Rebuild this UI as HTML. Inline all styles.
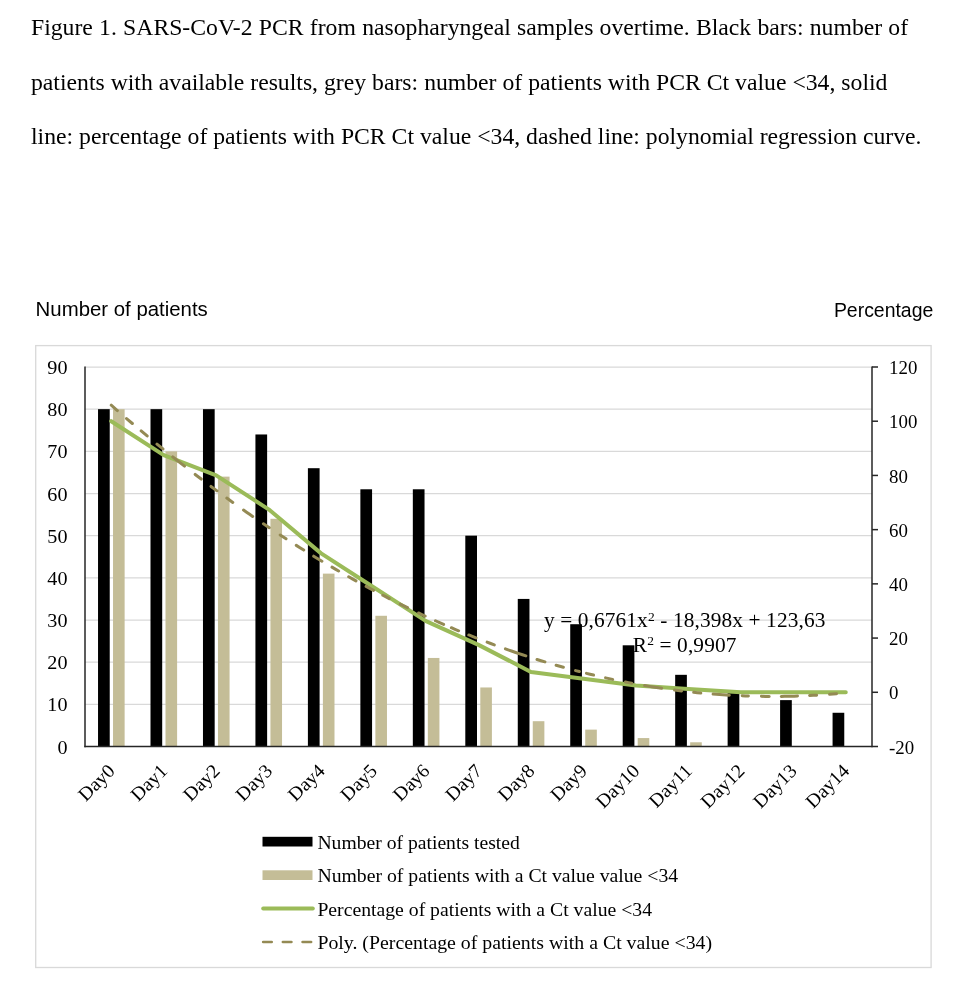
<!DOCTYPE html>
<html lang="en"><head><meta charset="utf-8"><title>Figure 1</title>
<style>
html,body{margin:0;padding:0;background:#fff;}
body{width:962px;height:992px;position:relative;overflow:hidden;}
.cap{position:absolute;left:31px;top:0;margin:0;font-family:"Liberation Serif",serif;font-size:23.7px;line-height:54.9px;color:#000;white-space:nowrap;}
.cap span{display:block;position:absolute;left:0;height:54.9px;}
</style></head><body>
<p class="cap"><span id="l1" style="top:0px;word-spacing:0.33px">Figure 1. SARS-CoV-2 PCR from nasopharyngeal samples overtime. Black bars: number of</span>
<span id="l2" style="top:54.7px;word-spacing:0.07px">patients with available results, grey bars: number of patients with PCR Ct value &lt;34, solid</span>
<span id="l3" style="top:108.55px;word-spacing:0.02px">line: percentage of patients with PCR Ct value &lt;34, dashed line: polynomial regression curve.</span></p>
<svg width="962" height="992" viewBox="0 0 962 992" style="position:absolute;left:0;top:0">
<rect x="35.7" y="345.6" width="895.4" height="621.9" fill="#fff" stroke="#d9d9d9" stroke-width="1.33"/>
<line x1="85.0" x2="872.0" y1="704.33" y2="704.33" stroke="#d9d9d9" stroke-width="1.25"/>
<line x1="85.0" x2="872.0" y1="662.17" y2="662.17" stroke="#d9d9d9" stroke-width="1.25"/>
<line x1="85.0" x2="872.0" y1="620.00" y2="620.00" stroke="#d9d9d9" stroke-width="1.25"/>
<line x1="85.0" x2="872.0" y1="577.83" y2="577.83" stroke="#d9d9d9" stroke-width="1.25"/>
<line x1="85.0" x2="872.0" y1="535.67" y2="535.67" stroke="#d9d9d9" stroke-width="1.25"/>
<line x1="85.0" x2="872.0" y1="493.50" y2="493.50" stroke="#d9d9d9" stroke-width="1.25"/>
<line x1="85.0" x2="872.0" y1="451.33" y2="451.33" stroke="#d9d9d9" stroke-width="1.25"/>
<line x1="85.0" x2="872.0" y1="409.17" y2="409.17" stroke="#d9d9d9" stroke-width="1.25"/>
<line x1="85.0" x2="872.0" y1="367.00" y2="367.00" stroke="#d9d9d9" stroke-width="1.25"/>
<rect x="98.03" y="409.17" width="11.7" height="337.33" fill="#000"/>
<rect x="113.03" y="409.17" width="11.6" height="337.33" fill="#c4bd97"/>
<rect x="150.50" y="409.17" width="11.7" height="337.33" fill="#000"/>
<rect x="165.50" y="451.33" width="11.6" height="295.17" fill="#c4bd97"/>
<rect x="202.97" y="409.17" width="11.7" height="337.33" fill="#000"/>
<rect x="217.97" y="476.63" width="11.6" height="269.87" fill="#c4bd97"/>
<rect x="255.43" y="434.47" width="11.7" height="312.03" fill="#000"/>
<rect x="270.43" y="518.80" width="11.6" height="227.70" fill="#c4bd97"/>
<rect x="307.90" y="468.20" width="11.7" height="278.30" fill="#000"/>
<rect x="322.90" y="573.62" width="11.6" height="172.88" fill="#c4bd97"/>
<rect x="360.37" y="489.28" width="11.7" height="257.22" fill="#000"/>
<rect x="375.37" y="615.78" width="11.6" height="130.72" fill="#c4bd97"/>
<rect x="412.83" y="489.28" width="11.7" height="257.22" fill="#000"/>
<rect x="427.83" y="657.95" width="11.6" height="88.55" fill="#c4bd97"/>
<rect x="465.30" y="535.67" width="11.7" height="210.83" fill="#000"/>
<rect x="480.30" y="687.47" width="11.6" height="59.03" fill="#c4bd97"/>
<rect x="517.77" y="598.92" width="11.7" height="147.58" fill="#000"/>
<rect x="532.77" y="721.20" width="11.6" height="25.30" fill="#c4bd97"/>
<rect x="570.23" y="624.22" width="11.7" height="122.28" fill="#000"/>
<rect x="585.23" y="729.63" width="11.6" height="16.87" fill="#c4bd97"/>
<rect x="622.70" y="645.30" width="11.7" height="101.20" fill="#000"/>
<rect x="637.70" y="738.07" width="11.6" height="8.43" fill="#c4bd97"/>
<rect x="675.17" y="674.82" width="11.7" height="71.68" fill="#000"/>
<rect x="690.17" y="742.28" width="11.6" height="4.22" fill="#c4bd97"/>
<rect x="727.63" y="691.68" width="11.7" height="54.82" fill="#000"/>
<rect x="780.10" y="700.12" width="11.7" height="46.38" fill="#000"/>
<rect x="832.57" y="712.77" width="11.7" height="33.73" fill="#000"/>
<line x1="85.0" x2="85.0" y1="366.5" y2="747.2" stroke="#262626" stroke-width="1.5"/>
<line x1="872.0" x2="872.0" y1="366.5" y2="747.2" stroke="#262626" stroke-width="1.5"/>
<line x1="84.35" x2="878.0" y1="746.5" y2="746.5" stroke="#262626" stroke-width="1.5"/>
<line x1="872.0" x2="878.0" y1="692.29" y2="692.29" stroke="#262626" stroke-width="1.5"/>
<line x1="872.0" x2="878.0" y1="638.07" y2="638.07" stroke="#262626" stroke-width="1.5"/>
<line x1="872.0" x2="878.0" y1="583.86" y2="583.86" stroke="#262626" stroke-width="1.5"/>
<line x1="872.0" x2="878.0" y1="529.64" y2="529.64" stroke="#262626" stroke-width="1.5"/>
<line x1="872.0" x2="878.0" y1="475.43" y2="475.43" stroke="#262626" stroke-width="1.5"/>
<line x1="872.0" x2="878.0" y1="421.21" y2="421.21" stroke="#262626" stroke-width="1.5"/>
<line x1="872.0" x2="878.0" y1="367.00" y2="367.00" stroke="#262626" stroke-width="1.5"/>
<path d="M111.23,421.21 L163.70,455.10 L216.17,475.43 L268.63,509.31 L321.10,553.36 L373.57,587.25 L426.03,621.13 L478.50,644.85 L530.97,671.96 L583.43,678.73 L635.90,685.51 L688.37,688.90 L740.83,692.29 L793.30,692.29 L845.77,692.29" fill="none" stroke="#9bbb59" stroke-width="4" stroke-linecap="round" stroke-linejoin="round"/>
<path d="M111.23,405.20 L114.30,407.89 L117.37,410.58 M126.54,418.52 L132.36,423.51 M141.15,430.95 L147.15,435.97 M156.96,444.08 L162.93,448.95 M172.77,456.87 L176.69,459.99 L180.60,463.09 L184.52,466.16 M195.19,474.44 L198.20,476.75 L201.21,479.05 M211.00,486.44 L216.99,490.89 M226.81,498.09 L232.78,502.41 M243.53,510.05 L246.57,512.19 L249.62,514.32 L252.67,516.44 M263.44,523.82 L269.25,527.74 M280.15,534.97 L286.04,538.80 M296.27,545.36 L300.00,547.72 L303.73,550.05 M313.68,556.20 L317.80,558.71 L321.91,561.19 M331.99,567.17 L335.30,569.10 L338.60,571.02 M348.71,576.79 L352.35,578.84 L355.99,580.87 M366.12,586.42 L369.80,588.40 L373.47,590.36 M382.83,595.28 L386.05,596.94 L389.26,598.59 M400.24,604.11 L403.90,605.92 L407.55,607.70 M418.56,612.97 L421.85,614.52 L425.14,616.05 M435.47,620.75 L439.55,622.57 L443.63,624.37 M451.38,627.73 L455.00,629.27 L458.62,630.79 M468.79,634.97 L472.40,636.43 L476.00,637.86 M487.10,642.16 L490.70,643.52 L494.29,644.86 M505.41,648.90 L508.82,650.10 L512.23,651.29 L515.64,652.47 L519.05,653.63 L522.46,654.77 L525.87,655.90 M537.03,659.48 L541.00,660.72 L544.96,661.93 M556.14,665.23 L559.75,666.27 L563.35,667.28 M575.55,670.58 L579.35,671.57 M586.46,673.36 L590.00,674.23 L593.54,675.08 M605.56,677.85 L609.10,678.63 L612.63,679.39 M625.47,682.02 L628.60,682.63 L631.73,683.22 M644.68,685.54 L648.07,686.11 L651.45,686.66 L654.84,687.20 L658.23,687.72 L661.62,688.23 M674.59,690.04 L678.10,690.49 L681.61,690.92 M693.69,692.29 L697.25,692.65 L700.81,693.00 M713.10,694.08 L716.34,694.33 L719.58,694.56 L722.82,694.79 L726.06,694.99 L729.30,695.19 M742.20,695.82 L745.30,695.94 L748.40,696.05 M761.40,696.35 L765.30,696.40 L769.20,696.43 M781.30,696.39 L784.54,696.34 L787.78,696.28 L791.02,696.21 L794.26,696.13 L797.50,696.02 M809.60,695.53 L813.10,695.35 L816.60,695.15 M829.60,694.28 L833.05,694.01 L836.51,693.72" fill="none" stroke="#948a54" stroke-width="3.0" stroke-linecap="round"/>
<g font-family="Liberation Serif, serif" font-size="19.2" fill="#000">
<text transform="translate(67.5,753.60) scale(1.05,1)" text-anchor="end">0</text>
<text transform="translate(67.5,711.43) scale(1.05,1)" text-anchor="end">10</text>
<text transform="translate(67.5,669.27) scale(1.05,1)" text-anchor="end">20</text>
<text transform="translate(67.5,627.10) scale(1.05,1)" text-anchor="end">30</text>
<text transform="translate(67.5,584.93) scale(1.05,1)" text-anchor="end">40</text>
<text transform="translate(67.5,542.77) scale(1.05,1)" text-anchor="end">50</text>
<text transform="translate(67.5,500.60) scale(1.05,1)" text-anchor="end">60</text>
<text transform="translate(67.5,458.43) scale(1.05,1)" text-anchor="end">70</text>
<text transform="translate(67.5,416.27) scale(1.05,1)" text-anchor="end">80</text>
<text transform="translate(67.5,374.10) scale(1.05,1)" text-anchor="end">90</text>
<text transform="translate(889,753.60) scale(0.985,1)">-20</text>
<text transform="translate(889,699.39) scale(0.985,1)">0</text>
<text transform="translate(889,645.17) scale(0.985,1)">20</text>
<text transform="translate(889,590.96) scale(0.985,1)">40</text>
<text transform="translate(889,536.74) scale(0.985,1)">60</text>
<text transform="translate(889,482.53) scale(0.985,1)">80</text>
<text transform="translate(889,428.31) scale(0.985,1)">100</text>
<text transform="translate(889,374.10) scale(0.985,1)">120</text>
<text transform="translate(116.03,771.9) rotate(-45) scale(1.03,1)" text-anchor="end">Day0</text>
<text transform="translate(168.50,771.9) rotate(-45) scale(1.03,1)" text-anchor="end">Day1</text>
<text transform="translate(220.97,771.9) rotate(-45) scale(1.03,1)" text-anchor="end">Day2</text>
<text transform="translate(273.43,771.9) rotate(-45) scale(1.03,1)" text-anchor="end">Day3</text>
<text transform="translate(325.90,771.9) rotate(-45) scale(1.03,1)" text-anchor="end">Day4</text>
<text transform="translate(378.37,771.9) rotate(-45) scale(1.03,1)" text-anchor="end">Day5</text>
<text transform="translate(430.83,771.9) rotate(-45) scale(1.03,1)" text-anchor="end">Day6</text>
<text transform="translate(483.30,771.9) rotate(-45) scale(1.03,1)" text-anchor="end">Day7</text>
<text transform="translate(535.77,771.9) rotate(-45) scale(1.03,1)" text-anchor="end">Day8</text>
<text transform="translate(588.23,771.9) rotate(-45) scale(1.03,1)" text-anchor="end">Day9</text>
<text transform="translate(640.70,771.9) rotate(-45) scale(1.03,1)" text-anchor="end">Day10</text>
<text transform="translate(693.17,771.9) rotate(-45) scale(1.03,1)" text-anchor="end">Day11</text>
<text transform="translate(745.63,771.9) rotate(-45) scale(1.03,1)" text-anchor="end">Day12</text>
<text transform="translate(798.10,771.9) rotate(-45) scale(1.03,1)" text-anchor="end">Day13</text>
<text transform="translate(850.57,771.9) rotate(-45) scale(1.03,1)" text-anchor="end">Day14</text>
</g>
<g font-family="Liberation Serif, serif" font-size="21.33" fill="#000" style="letter-spacing:0.12px">
<text x="825.5" y="627" text-anchor="end">y = 0,6761x<tspan font-size="13.5" dy="-6.5">2</tspan><tspan dy="6.5"> - 18,398x + 123,63</tspan></text>
<text x="736.5" y="651.6" text-anchor="end">R<tspan font-size="13.5" dy="-6.5">2</tspan><tspan dy="6.5"> = 0,9907</tspan></text>
</g>
<rect x="262.5" y="836.8" width="50" height="9.7" fill="#000"/>
<rect x="262.5" y="870.3" width="50" height="9.7" fill="#c4bd97"/>
<line x1="263.2" x2="312.8" y1="908.5" y2="908.5" stroke="#9bbb59" stroke-width="4" stroke-linecap="round"/>
<line x1="263.2" x2="312.6" y1="942" y2="942" stroke="#948a54" stroke-width="2.67" stroke-dasharray="8.5 11.2" stroke-linecap="round"/>
<g font-family="Liberation Serif, serif" font-size="18.67" fill="#000">
<text x="317.4" y="849" textLength="202.4" lengthAdjust="spacingAndGlyphs">Number of patients tested</text>
<text x="317.4" y="881.6" textLength="360.8" lengthAdjust="spacingAndGlyphs">Number of patients with a Ct value value &lt;34</text>
<text x="317.4" y="915.9" textLength="334.6" lengthAdjust="spacingAndGlyphs">Percentage of patients with a Ct value &lt;34</text>
<text x="317.4" y="948.8" textLength="394.7" lengthAdjust="spacingAndGlyphs">Poly. (Percentage of patients with a Ct value &lt;34)</text>
</g>
<text font-family="Liberation Sans, sans-serif" font-size="20.5" x="35.6" y="315.7" fill="#000" textLength="172.2" lengthAdjust="spacingAndGlyphs">Number of patients</text>
<text font-family="Liberation Sans, sans-serif" font-size="20.5" x="833.9" y="316.9" fill="#000" textLength="99.4" lengthAdjust="spacingAndGlyphs">Percentage</text>
</svg>
</body></html>
